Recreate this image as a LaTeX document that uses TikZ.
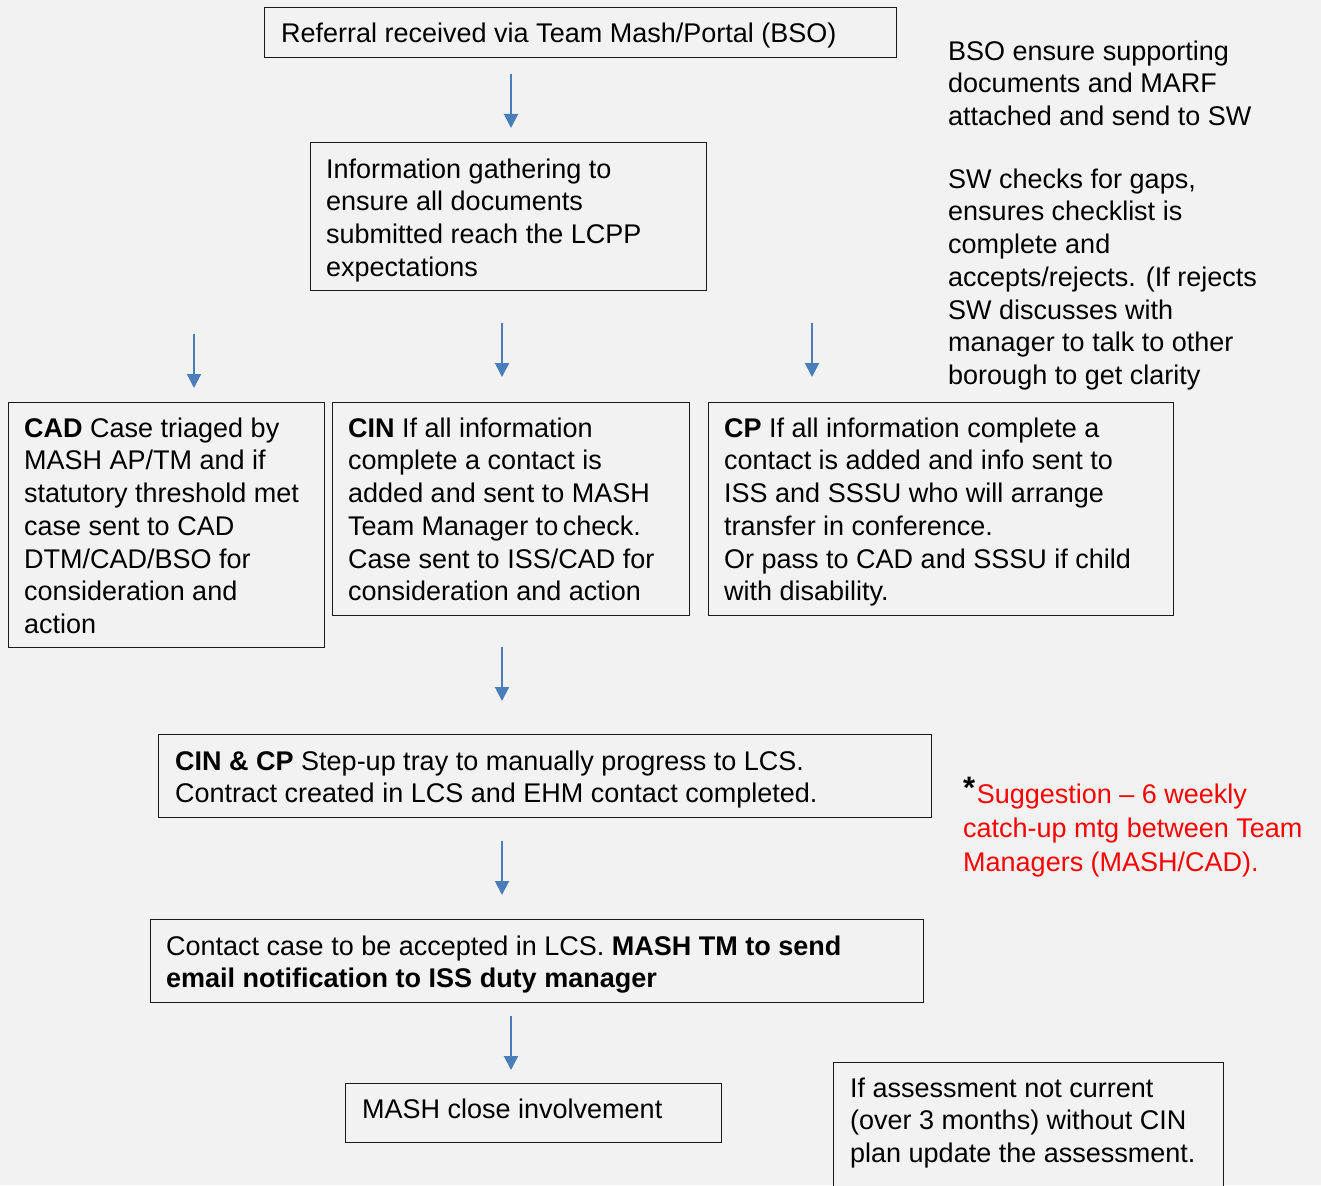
\documentclass[tikz,border=0pt]{standalone}
\usepackage{fontspec}
\setmainfont{Liberation Sans}
\usetikzlibrary{arrows.meta}
\definecolor{bg}{HTML}{F2F2F2}
\definecolor{flowblue}{HTML}{4A7EBB}
\definecolor{edge}{HTML}{1A1A1A}
\definecolor{note}{HTML}{FF0000}
% fixed height for the first line of every text block
\newcommand\lnstrut{\rule{0pt}{22pt}}

\begin{document}
\begin{tikzpicture}[x=1pt,y=-1pt,
  box/.style={draw=edge,line width=1.3pt,fill=bg,inner sep=0pt,anchor=north west},
  txt/.style={inner sep=0pt,anchor=north west,align=left,
              font=\fontsize{27pt}{32.7pt}\selectfont},
  flow/.style={draw=flowblue,line width=2pt,-{Triangle[width=14pt,length=14pt]}}]

\useasboundingbox (0,0) rectangle (1321,1185);
\clip (0,0) rectangle (1321,1185);
\fill[bg] (0,0) rectangle (1321,1185);

% boxes
\node[box,minimum width=632pt,minimum height=50pt]  (referral) at (264,7) {};
\node[box,minimum width=396pt,minimum height=148pt] (info)     at (310,142) {};
\node[box,minimum width=316pt,minimum height=245pt] (cad)      at (8,402) {};
\node[box,minimum width=357pt,minimum height=213pt] (cin)      at (332,402) {};
\node[box,minimum width=465pt,minimum height=213pt] (cp)       at (708,402) {};
\node[box,minimum width=773pt,minimum height=83pt]  (stepup)   at (158,734) {};
\node[box,minimum width=773pt,minimum height=83pt]  (contact)  at (150,919) {};
\node[box,minimum width=376pt,minimum height=59pt]  (close)    at (345,1083) {};
\node[box,minimum width=390pt,minimum height=140pt] (assess)   at (833,1062) {};

% box texts
\node[txt] (referraltxt) at (281,20) {\lnstrut Referral received via Team Mash/Portal (BSO)};
\node[txt] (infotxt) at (326,156) {\lnstrut Information gathering to\\ensure all documents\\submitted reach the LCPP\\expectations};
\node[txt] (cadtxt) at (24,415) {\lnstrut\textbf{CAD} Case triaged by\\MASH AP/TM and if\\statutory threshold met\\case sent to CAD\\DTM/CAD/BSO for\\consideration and\\action};
\node[txt] (cintxt) at (348,415) {\lnstrut\textbf{CIN} If all information\\complete a contact is\\added and sent to MASH\\Team Manager to\,check.\\Case sent to ISS/CAD for\\consideration and action};
\node[txt] (cptxt) at (724,415) {\lnstrut\textbf{CP} If all information complete a\\contact is added and info sent to\\ISS and SSSU who will arrange\\transfer in conference.\\Or pass to CAD and SSSU if child\\with disability.};
\node[txt] (stepuptxt) at (175,748) {\lnstrut\textbf{CIN \& CP} Step-up tray to manually progress to LCS.\\Contract created in LCS and EHM contact completed.};
\node[txt] (contacttxt) at (166,933) {\lnstrut Contact case to be accepted in LCS. \textbf{MASH TM to send}\\\textbf{email notification to ISS duty manager}};
\node[txt] (closetxt) at (362,1096) {\lnstrut MASH close involvement};
\node[txt] (assesstxt) at (850,1075) {\lnstrut If assessment not current\\(over 3 months) without CIN\\plan update the assessment.};

% side notes
\node[txt] (bsonote) at (948,38) {\lnstrut BSO ensure supporting\\documents and MARF\\attached and send to SW};
\node[txt] (swnote) at (948,166) {\lnstrut SW checks for gaps,\\ensures checklist is\\complete and\\accepts/rejects. (If rejects\\SW discusses with\\manager to talk to other\\borough to get clarity};
\node[txt,font=\fontsize{27pt}{34pt}\selectfont] (suggestion) at (963,781)
  {\lnstrut\smash{\raisebox{5pt}{\fontsize{31pt}{31pt}\selectfont\bfseries *}}\hspace{1.5pt}\textcolor{note}{Suggestion -- 6 weekly}\\\textcolor{note}{catch-up mtg between Team}\\\textcolor{note}{Managers (MASH/CAD).}};

% flow arrows
\coordinate (a1s) at (511,74);   \coordinate (a1e) at (511,128);
\coordinate (a2s) at (194,334);  \coordinate (a2e) at (194,388);
\coordinate (a3s) at (502,323);  \coordinate (a3e) at (502,377);
\coordinate (a4s) at (812,323);  \coordinate (a4e) at (812,377);
\coordinate (a5s) at (502,647);  \coordinate (a5e) at (502,701);
\coordinate (a6s) at (502,841);  \coordinate (a6e) at (502,895);
\coordinate (a7s) at (511,1016); \coordinate (a7e) at (511,1070);
\foreach \i in {1,...,7} \draw[flow] (a\i s) -- (a\i e);

\end{tikzpicture}
\end{document}
